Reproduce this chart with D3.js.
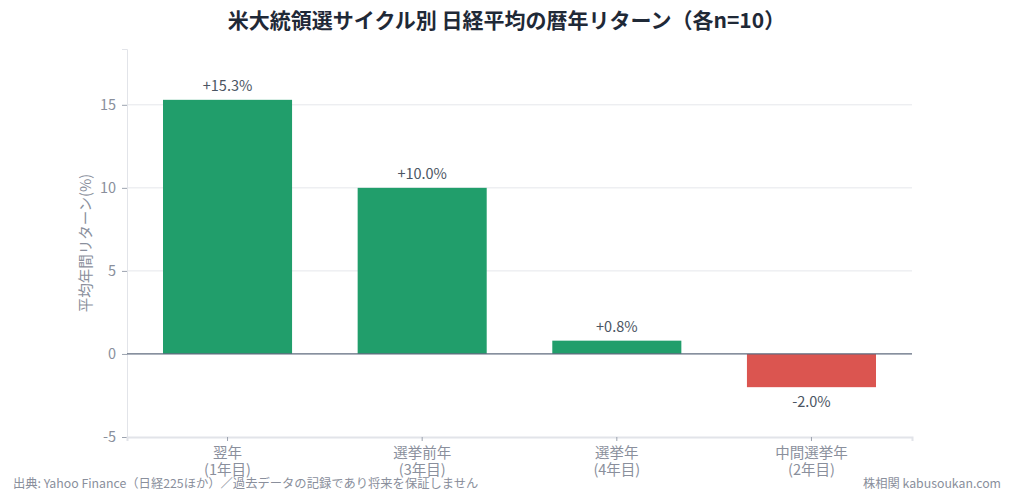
<!DOCTYPE html>
<html>
<head>
<meta charset="utf-8">
<script src="https://cdn.jsdelivr.net/npm/d3@7"></script>
<style>
  body { margin: 0; background: #fff; }
  text { font-family: "Noto Sans CJK JP", "Noto Sans", sans-serif; }
</style>
</head>
<body>
<svg id="chart"></svg>
<script>
// データ
var categories = ["翌年", "選挙前年", "選挙年", "中間選挙年"];
var subLabels = ["(1年目)", "(3年目)", "(4年目)", "(2年目)"];
var returns = [15.3, 10.0, 0.8, -2.0];
var yTicks = [-5, 0, 5, 10, 15];

var width = 1013, height = 500;
var margin = { top: 49, right: 101, bottom: 63, left: 127 };

var svg = d3.select("#chart")
  .attr("width", width)
  .attr("height", height);

var x = d3.scaleBand()
  .domain(categories)
  .range([margin.left, width - margin.right])
  .paddingInner(0.337)
  .paddingOuter(0.185);

var y = d3.scaleLinear()
  .domain([-5, 15.3 * 1.2])
  .range([height - margin.bottom, margin.top]);

// グリッド線
svg.append("g")
  .selectAll("line")
  .data(yTicks.filter(d => d !== 0 && d !== -5))
  .enter().append("line")
    .attr("x1", margin.left)
    .attr("x2", width - margin.right)
    .attr("y1", d => y(d))
    .attr("y2", d => y(d))
    .attr("stroke", "#e5e7eb")
    .attr("stroke-width", 1);

// Y軸
var yAxis = svg.append("g")
  .attr("transform", `translate(${margin.left},0)`)
  .call(d3.axisLeft(y).tickValues(yTicks).tickFormat(d => String(d)).tickSize(5).tickPadding(6));
yAxis.select(".domain").attr("stroke", "#e2e4e9");
yAxis.selectAll(".tick line").attr("stroke", "#9ca3af");
yAxis.selectAll("text")
  .attr("fill", "#8a8f9c")
  .style("font-size", "14.5px");

// X軸
var xAxis = svg.append("g")
  .attr("transform", `translate(0,${y(-5)})`)
  .call(d3.axisBottom(x).tickSize(4).tickPadding(7));
xAxis.select(".domain").attr("stroke", "#e2e4e9").attr("stroke-width", 2);
xAxis.selectAll(".tick line").attr("stroke", "#9ca3af");
xAxis.selectAll(".tick text")
  .attr("fill", "#8a8f9c")
  .style("font-size", "14.5px")
  .each(function (d, i) {
    var t = d3.select(this).text(null);
    t.append("tspan").attr("x", 0).attr("dy", "0.71em").text(d);
    t.append("tspan").attr("x", 0).attr("dy", "1.18em").text(subLabels[i]);
  });

// 棒
svg.append("g")
  .selectAll("rect")
  .data(returns)
  .enter().append("rect")
    .attr("x", (d, i) => x(categories[i]))
    .attr("width", x.bandwidth())
    .attr("y", d => y(Math.max(0, d)))
    .attr("height", d => Math.abs(y(d) - y(0)))
    .attr("fill", d => d >= 0 ? "#219e6b" : "#db5550");

// ゼロ線
svg.append("line")
  .attr("x1", margin.left)
  .attr("x2", width - margin.right)
  .attr("y1", y(0))
  .attr("y2", y(0))
  .attr("stroke", "#5f6b7e")
  .attr("stroke-width", 1.2);

// 値ラベル
svg.append("g")
  .selectAll("text")
  .data(returns)
  .enter().append("text")
    .attr("x", (d, i) => x(categories[i]) + x.bandwidth() / 2)
    .attr("y", d => d >= 0 ? y(d) - 8.5 : y(d) + 20)
    .attr("text-anchor", "middle")
    .attr("fill", "#4b5563")
    .style("font-size", "14.5px")
    .text(d => (d >= 0 ? "+" : "") + d.toFixed(1) + "%");

// Y軸ラベル
svg.append("text")
  .attr("transform", `translate(91,${(y.range()[0] + y.range()[1]) / 2}) rotate(-90)`)
  .attr("text-anchor", "middle")
  .attr("fill", "#8a8f9c")
  .style("font-size", "14.5px")
  .text("平均年間リターン(%)");

// タイトル
svg.append("text")
  .attr("x", width / 2)
  .attr("y", 28)
  .attr("text-anchor", "middle")
  .attr("fill", "#1f2937")
  .style("font-size", "21px")
  .style("font-weight", "bold")
  .text("米大統領選サイクル別 日経平均の暦年リターン（各n=10）");

// 出典
svg.append("text")
  .attr("x", 13)
  .attr("y", 488)
  .attr("fill", "#8a8f9c")
  .style("font-size", "12.3px")
  .text("出典: Yahoo Finance（日経225ほか）／過去データの記録であり将来を保証しません");

svg.append("text")
  .attr("x", 1001)
  .attr("y", 488)
  .attr("text-anchor", "end")
  .attr("fill", "#8a8f9c")
  .style("font-size", "12.3px")
  .text("株相関 kabusoukan.com");
</script>
</body>
</html>
